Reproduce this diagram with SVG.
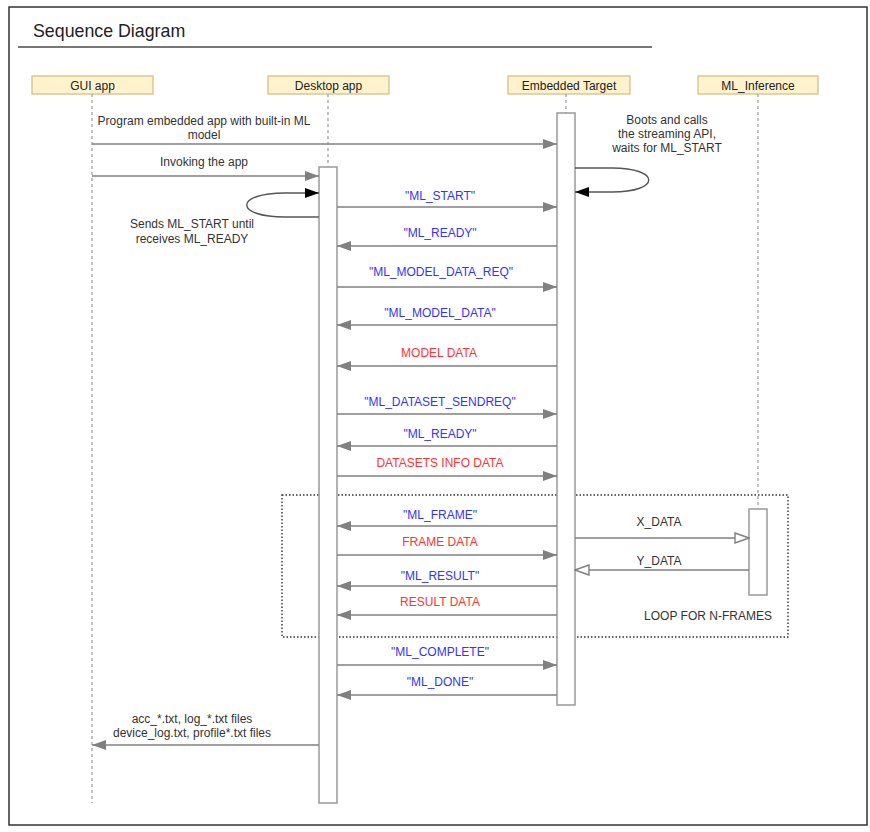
<svg xmlns="http://www.w3.org/2000/svg" width="870" height="832" viewBox="0 0 870 832">
  <style>
    text { font-family: "Liberation Sans", Arial, sans-serif; font-size: 12px; fill: #333; }
    .title { font-size: 17.8px; fill: #222; }
    .actor .box { fill: #fff2cc; stroke: #d2bb7e; stroke-width: 1.2; }
    .actor text { font-size: 12px; text-anchor: middle; fill: #222; }
    .life { stroke: #999; stroke-width: 1.2; stroke-dasharray: 3 3; fill: none; }
    .actor .bar { fill: #fff; stroke: #999; stroke-width: 1.5; }
    .msg { stroke: #808080; stroke-width: 1.6; fill: none; marker-end: url(#head); }
    .ret { stroke: #808080; stroke-width: 1.6; fill: none; marker-end: url(#open); }
    .self { stroke: #555; stroke-width: 1.4; fill: none; marker-end: url(#black); }
    .lbl { text-anchor: middle; }
    .blue { fill: #3333ff; }
    .red { fill: #ff3333; }
  </style>
  <defs>
    <marker id="head" viewBox="0 0 14 10" refX="14" refY="5" markerWidth="14" markerHeight="10" markerUnits="userSpaceOnUse" orient="auto">
      <path d="M0,0 L14,5 L0,10 Z" fill="#808080"/>
    </marker>
    <marker id="open" viewBox="0 0 16 12" refX="15" refY="6" markerWidth="16" markerHeight="12" markerUnits="userSpaceOnUse" orient="auto">
      <path d="M1,1 L15,6 L1,11 Z" fill="#fff" stroke="#808080" stroke-width="1.4"/>
    </marker>
    <marker id="black" viewBox="0 0 14 10" refX="14" refY="5" markerWidth="14" markerHeight="10" markerUnits="userSpaceOnUse" orient="auto">
      <path d="M0,0 L14,5 L0,10 Z" fill="#000"/>
    </marker>
  </defs>

  <!-- frame and heading -->
  <rect x="9" y="7" width="858" height="818" fill="#fff" stroke="#333" stroke-width="1.5"/>
  <text class="title" x="33" y="37">Sequence Diagram</text>
  <line x1="18" y1="47" x2="652" y2="47" stroke="#777" stroke-width="2"/>

  <!-- loop fragment -->
  <rect id="loop" x="282" y="495" width="506" height="142" fill="none" stroke="#333" stroke-width="1.4" stroke-dasharray="1.5 2"/>
  <text class="lbl" x="708" y="620">LOOP FOR N-FRAMES</text>

  <!-- participants -->
  <g id="gui" class="actor">
    <rect class="box" x="32" y="76" width="121" height="18"/>
    <text x="92.5" y="89.5">GUI app</text>
    <line class="life" x1="92" y1="94" x2="92" y2="803"/>
  </g>
  <g id="desktop" class="actor">
    <rect class="box" x="268" y="76" width="121" height="18"/>
    <text x="328.5" y="89.5">Desktop app</text>
    <line class="life" x1="328" y1="94" x2="328" y2="167"/>
    <rect class="bar" x="319" y="167" width="18" height="636"/>
  </g>
  <g id="target" class="actor">
    <rect class="box" x="508" y="76" width="122" height="18"/>
    <text x="569" y="89.5">Embedded Target</text>
    <line class="life" x1="566" y1="94" x2="566" y2="113"/>
    <rect class="bar" x="557" y="113" width="18" height="592"/>
  </g>
  <g id="inference" class="actor">
    <rect class="box" x="698" y="76" width="120" height="18"/>
    <text x="758" y="89.5">ML_Inference</text>
    <line class="life" x1="758" y1="94" x2="758" y2="509"/>
    <rect class="bar" x="749" y="509" width="18" height="86"/>
  </g>

  <!-- messages -->
  <g id="connectors">
    <text class="lbl" x="204" y="125">Program embedded app with built-in ML</text>
    <text class="lbl" x="204" y="139">model</text>
    <line class="msg" x1="92" y1="144" x2="557" y2="144"/>

    <text class="lbl" x="204" y="166">Invoking the app</text>
    <line class="msg" x1="92" y1="176" x2="319" y2="176"/>

    <path class="self" d="M319,217 L285,217 C234,217 234,193 285,193 L319,193"/>
    <text class="lbl" x="192" y="228">Sends ML_START until</text>
    <text class="lbl" x="192" y="243">receives ML_READY</text>

    <path class="self" d="M575,168 L612,168 C661,168 661,192 612,192 L575,192"/>
    <text class="lbl" x="667" y="124">Boots and calls</text>
    <text class="lbl" x="667" y="138">the streaming API,</text>
    <text class="lbl" x="667" y="152">waits for ML_START</text>

    <text class="lbl blue" x="440" y="200">"ML_START"</text>
    <line class="msg" x1="337" y1="207" x2="557" y2="207"/>

    <text class="lbl blue" x="440" y="237">"ML_READY"</text>
    <line class="msg" x1="557" y1="246" x2="337" y2="246"/>

    <text class="lbl blue" x="441" y="276">"ML_MODEL_DATA_REQ"</text>
    <line class="msg" x1="337" y1="287" x2="557" y2="287"/>

    <text class="lbl blue" x="440" y="317">"ML_MODEL_DATA"</text>
    <line class="msg" x1="557" y1="325" x2="337" y2="325"/>

    <text class="lbl red" x="439" y="357">MODEL DATA</text>
    <line class="msg" x1="557" y1="366" x2="337" y2="366"/>

    <text class="lbl blue" x="440" y="406">"ML_DATASET_SENDREQ"</text>
    <line class="msg" x1="337" y1="414" x2="557" y2="414"/>

    <text class="lbl blue" x="440" y="438">"ML_READY"</text>
    <line class="msg" x1="557" y1="446" x2="337" y2="446"/>

    <text class="lbl red" x="440" y="467">DATASETS INFO DATA</text>
    <line class="msg" x1="337" y1="476" x2="557" y2="476"/>

    <text class="lbl blue" x="440" y="519">"ML_FRAME"</text>
    <line class="msg" x1="557" y1="526" x2="337" y2="526"/>

    <text class="lbl red" x="440" y="546">FRAME DATA</text>
    <line class="msg" x1="337" y1="555" x2="557" y2="555"/>

    <text class="lbl blue" x="440" y="580">"ML_RESULT"</text>
    <line class="msg" x1="557" y1="586" x2="337" y2="586"/>

    <text class="lbl red" x="440" y="606">RESULT DATA</text>
    <line class="msg" x1="557" y1="615" x2="337" y2="615"/>

    <text class="lbl" x="659" y="526">X_DATA</text>
    <line class="ret" x1="575" y1="538" x2="749" y2="538"/>

    <text class="lbl" x="659" y="565">Y_DATA</text>
    <line class="ret" x1="749" y1="570" x2="575" y2="570"/>

    <text class="lbl blue" x="440" y="656">"ML_COMPLETE"</text>
    <line class="msg" x1="337" y1="665" x2="557" y2="665"/>

    <text class="lbl blue" x="440" y="686">"ML_DONE"</text>
    <line class="msg" x1="557" y1="695" x2="337" y2="695"/>

    <text class="lbl" x="192" y="723">acc_*.txt, log_*.txt files</text>
    <text class="lbl" x="192" y="737">device_log.txt, profile*.txt files</text>
    <line class="msg" x1="319" y1="745" x2="92" y2="745"/>
  </g>
</svg>
